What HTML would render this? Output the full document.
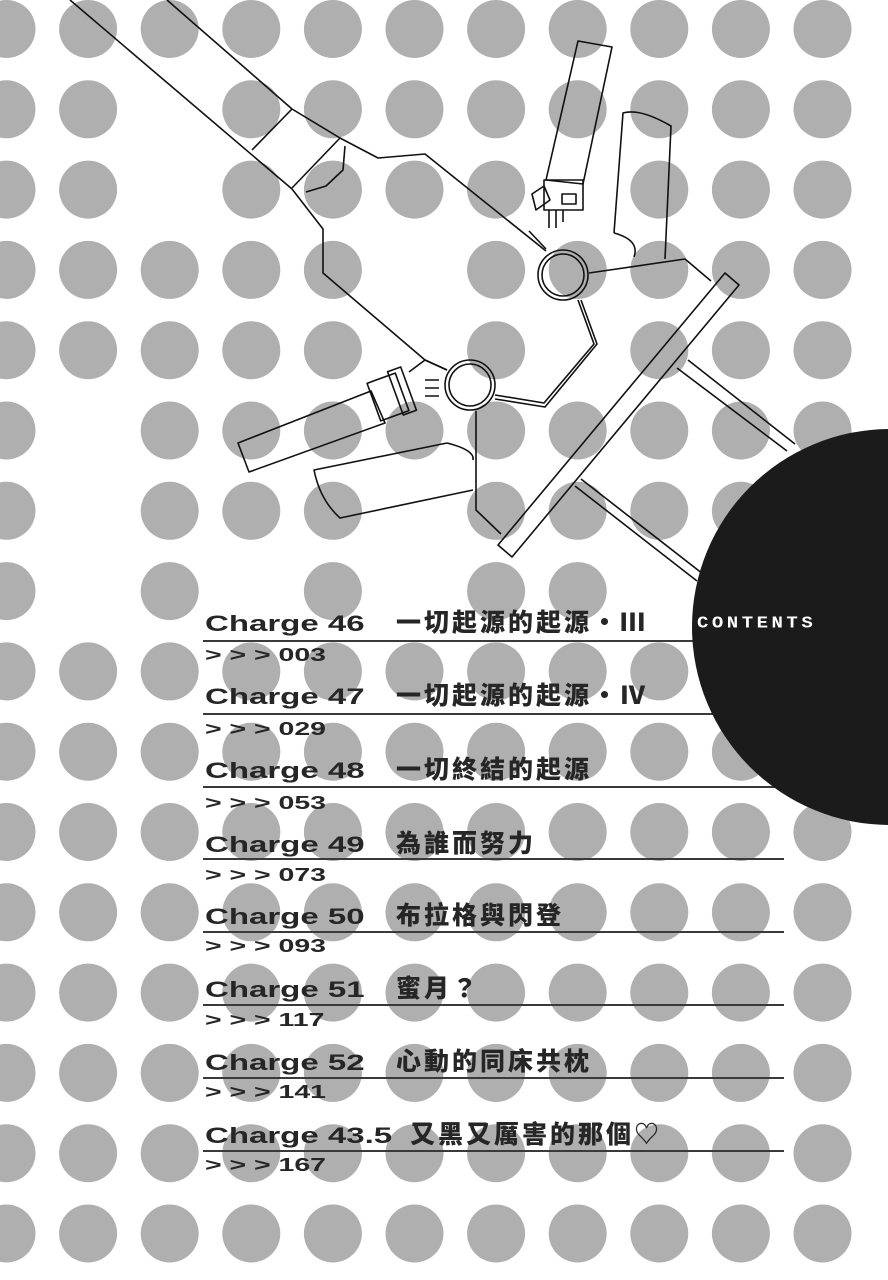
<!DOCTYPE html>
<html><head><meta charset="utf-8">
<style>
html,body{margin:0;padding:0;background:#fff;}
#w{position:relative;width:888px;height:1280px;overflow:hidden;background:#fff;}
svg{position:absolute;left:0;top:0;}
.c{position:absolute;left:205px;height:26px;line-height:26px;white-space:nowrap;color:#262626;}
.c .n{display:inline-block;font-family:"Liberation Sans",sans-serif;font-weight:bold;font-size:22px;transform:scaleX(1.5);transform-origin:0 50%;}
.c .t{position:absolute;top:-1px;font-family:"Liberation Sans","Noto Sans CJK TC",sans-serif;font-weight:900;font-size:25px;letter-spacing:3px;}
.p{position:absolute;left:205px;height:20px;line-height:20px;font-family:"Liberation Sans",sans-serif;font-weight:bold;font-size:18px;color:#262626;transform:scaleX(1.58);transform-origin:0 50%;white-space:nowrap;}
.ct{position:absolute;left:697px;top:612px;font-family:"Liberation Mono",monospace;font-weight:bold;font-size:19px;letter-spacing:3.5px;color:#fff;transform:scaleY(0.85);}
</style></head><body><div id="w">
<svg width="888" height="1280" viewBox="0 0 888 1280">
<g fill="#afafaf" id="dots"></g>
<g fill="none" stroke="#111" stroke-width="1.6" stroke-linejoin="round">
<line x1="167" y1="0" x2="292" y2="109"/>
<line x1="70" y1="0" x2="292" y2="189"/>
<line x1="252" y1="150" x2="292" y2="109"/>
<line x1="292" y1="188" x2="340" y2="138"/>
<polyline points="292,109 340,138 378,158 425,154 546,251"/>
<polyline points="345,146 343,170 326,186 306,192"/>
<polyline points="292,189 323,229 323,273 425,360 447,370"/>
<circle cx="563" cy="275" r="25"/><circle cx="563" cy="275" r="21"/>
<circle cx="470" cy="385" r="25"/><circle cx="470" cy="385" r="21"/>
<polygon points="578,41 612,47 583,184 546,180"/>
<rect x="544" y="180" width="39" height="30"/>
<polygon points="532,194 544,186 550,200 536,210"/>
<rect x="562" y="194" width="14" height="10"/>
<path d="M549 210 v18 M556 210 v18 M563 210 v12"/>
<polyline points="529,231 546,249"/>
<path d="M614 233 L623 113 Q640 108 671 126 L665 259"/>
<path d="M614 233 Q640 240 634 257"/>
<polyline points="589,273 685,259 711,281"/>
<polygon points="498,545 512,557 739,285 725,273"/>
<line x1="677" y1="368" x2="787" y2="451"/>
<line x1="688" y1="360" x2="795" y2="444"/>
<line x1="575" y1="486" x2="697" y2="581"/>
<line x1="581" y1="479" x2="703" y2="574"/>
<polyline points="578,300 594,344 544,403 495,395"/>
<polyline points="581,300 597,344 545,407 495,399"/>
<polygon points="238,443 249,472 385,423 371,391"/>
<rect x="373" y="377" width="30" height="40" transform="rotate(-20 388 397)"/>
<rect x="395" y="368" width="14" height="46" transform="rotate(-20 402 391)"/>
<polyline points="409,372 425,360 447,370"/>
<path d="M425 380 h14 M425 388 h14 M425 396 h14"/>
<path d="M447 443 L314 470 Q320 500 340 518 L473 490"/>
<path d="M447 443 Q475 450 473 460"/>
<polyline points="476,411 476,510 501,534"/>
</g>
<g stroke="#3a3a3a" stroke-width="2">
<line x1="203" y1="641" x2="784" y2="641"/>
<line x1="203" y1="714" x2="784" y2="714"/>
<line x1="203" y1="787" x2="784" y2="787"/>
<line x1="203" y1="859" x2="784" y2="859"/>
<line x1="203" y1="932" x2="784" y2="932"/>
<line x1="203" y1="1005" x2="784" y2="1005"/>
<line x1="203" y1="1078" x2="784" y2="1078"/>
<line x1="203" y1="1151" x2="784" y2="1151"/>
</g>
<circle cx="890" cy="627" r="198" fill="#1b1b1b"/>
</svg>
<div class="ct">CONTENTS</div>

<div class="c" style="top:611px"><span class="n">Charge 46</span><span class="t" style="left:191px">一切起源的起源・Ⅲ</span></div>
<div class="p" style="top:645px">&gt; &gt; &gt; 003</div>
<div class="c" style="top:684px"><span class="n">Charge 47</span><span class="t" style="left:191px">一切起源的起源・Ⅳ</span></div>
<div class="p" style="top:719px">&gt; &gt; &gt; 029</div>
<div class="c" style="top:758px"><span class="n">Charge 48</span><span class="t" style="left:191px">一切終結的起源</span></div>
<div class="p" style="top:793px">&gt; &gt; &gt; 053</div>
<div class="c" style="top:832px"><span class="n">Charge 49</span><span class="t" style="left:191px">為誰而努力</span></div>
<div class="p" style="top:865px">&gt; &gt; &gt; 073</div>
<div class="c" style="top:904px"><span class="n">Charge 50</span><span class="t" style="left:191px">布拉格與閃登</span></div>
<div class="p" style="top:936px">&gt; &gt; &gt; 093</div>
<div class="c" style="top:977px"><span class="n">Charge 51</span><span class="t" style="left:191px">蜜月？</span></div>
<div class="p" style="top:1010px">&gt; &gt; &gt; 117</div>
<div class="c" style="top:1050px"><span class="n">Charge 52</span><span class="t" style="left:191px">心動的同床共枕</span></div>
<div class="p" style="top:1082px">&gt; &gt; &gt; 141</div>
<div class="c" style="top:1123px"><span class="n">Charge 43.5</span><span class="t" style="left:205px">又黑又厲害的那個♡</span></div>
<div class="p" style="top:1155px">&gt; &gt; &gt; 167</div>
</div>
<script>
(function(){
var g=document.getElementById('dots');
var miss={"2,1":1,"2,2":1,"7,2":1,"5,3":1,"5,4":1,"7,4":1,"1,5":1,"1,6":1,"5,6":1,"1,7":1,"3,7":1,"5,7":1,"8,7":1};
var s='';
for(var r=0;r<16;r++){for(var c=0;c<11;c++){
 if(miss[c+','+r])continue;
 var x=6.5+c*81.6, y=29+r*80.3;
 s+='<circle cx="'+x.toFixed(1)+'" cy="'+y.toFixed(1)+'" r="29"/>';
}}
g.innerHTML=s;
})();
</script>
</body></html>
